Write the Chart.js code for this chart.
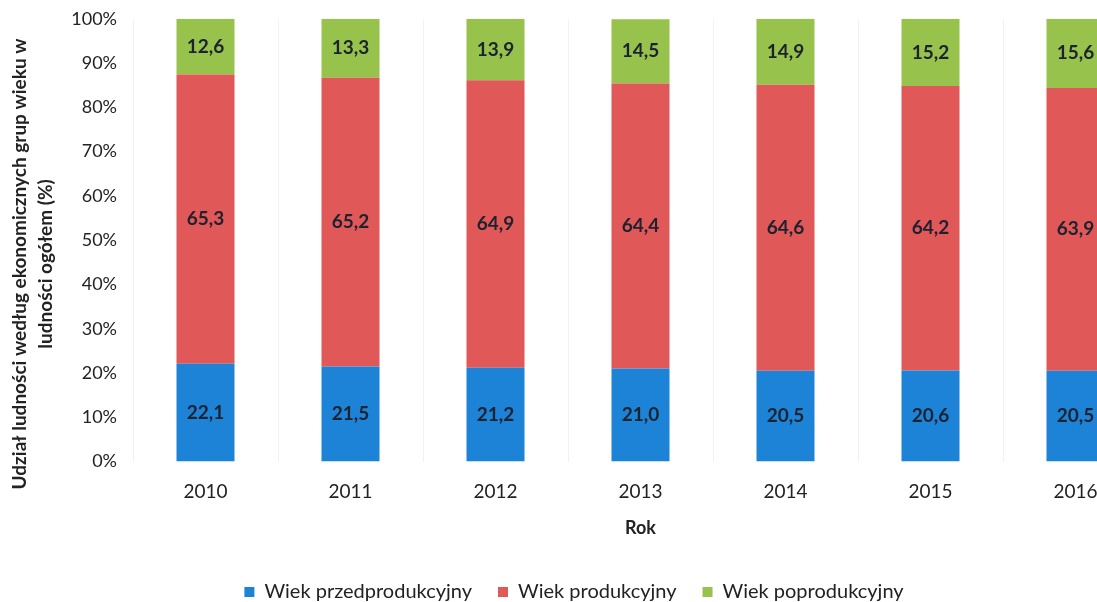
<!DOCTYPE html>
<html>
<head>
<meta charset="utf-8">
<script src="https://cdn.jsdelivr.net/npm/chart.js@4/dist/chart.umd.min.js"></script>
<style>
  html, body { margin: 0; padding: 0; background: #fff; overflow: hidden; }
  #wrap { width: 1152px; height: 612px; }
</style>
</head>
<body>
<div id="wrap"><canvas id="myChart"></canvas></div>
<script>
const years = ['2010', '2011', '2012', '2013', '2014', '2015', '2016'];
const przedprodukcyjny = [22.1, 21.5, 21.2, 21.0, 20.5, 20.6, 20.5];
const produkcyjny = [65.3, 65.2, 64.9, 64.4, 64.6, 64.2, 63.9];
const poprodukcyjny = [12.6, 13.3, 13.9, 14.5, 14.9, 15.2, 15.6];
const yTicks = [0, 10, 20, 30, 40, 50, 60, 70, 80, 90, 100];
const yTitle = ['Udział ludności według ekonomicznych grup wieku w', 'ludności ogółem (%)'];

const FONT = 'Lato, "Open Sans", sans-serif';

// labels in the middle of every segment
const segmentLabels = {
    id: 'segmentLabels',
    afterDatasetsDraw(chart) {
        const ctx = chart.ctx;
        ctx.save();
        ctx.font = 'bold 19px ' + FONT;
        ctx.fillStyle = '#1c2230';
        ctx.textAlign = 'center';
        ctx.textBaseline = 'middle';
        chart.data.datasets.forEach((ds, i) => {
            const meta = chart.getDatasetMeta(i);
            meta.data.forEach((bar, j) => {
                const p = bar.getProps(['x', 'y', 'base'], true);
                ctx.fillText(ds.data[j].toFixed(1).replace('.', ','), p.x, (p.y + p.base) / 2);
            });
        });
        ctx.restore();
    }
};

// the y title is longer than the axis, so it is drawn here instead of by the scale
const yAxisTitle = {
    id: 'yAxisTitle',
    afterDraw(chart) {
        const ctx = chart.ctx;
        ctx.save();
        ctx.font = 'bold 19px ' + FONT;
        ctx.fillStyle = '#222';
        ctx.textAlign = 'center';
        ctx.textBaseline = 'middle';
        yTitle.forEach((line, i) => {
            ctx.save();
            ctx.translate(20 + i * 26, 264);
            ctx.rotate(-Math.PI / 2);
            ctx.fillText(line, 0, 0);
            ctx.restore();
        });
        ctx.restore();
    }
};

const ctx = document.getElementById('myChart').getContext('2d');
const myChart = new Chart(ctx, {
    type: 'bar',
    data: {
        labels: years,
        datasets: [{
            label: 'Wiek przedprodukcyjny',
            data: przedprodukcyjny,
            backgroundColor: '#1d83d6',
        }, {
            label: 'Wiek produkcyjny',
            data: produkcyjny,
            backgroundColor: '#e05858',
        }, {
            label: 'Wiek poprodukcyjny',
            data: poprodukcyjny,
            backgroundColor: '#97c24c',
        }]
    },
    options: {
        responsive: true,
        maintainAspectRatio: false,
        animation: false,
        barPercentage: 0.8,
        categoryPercentage: 0.5,
        layout: { padding: { top: 11, right: 4, left: 0, bottom: 0 } },
        plugins: {
            tooltip: { enabled: false },
            legend: {
                position: 'bottom',
                labels: {
                    boxWidth: 10,
                    boxHeight: 10,
                    padding: 26,
                    color: '#222',
                    font: { family: FONT, size: 20 }
                }
            }
        },
        scales: {
            x: {
                stacked: true,
                border: { display: false },
                grid: {
                    display: true,
                    color: 'rgba(0,0,0,0.05)',
                    drawTicks: false
                },
                ticks: {
                    padding: 19,
                    color: '#222',
                    font: { family: FONT, size: 19 }
                },
                title: {
                    display: true,
                    text: 'Rok',
                    color: '#222',
                    padding: { top: -5, bottom: 17 },
                    font: { family: FONT, size: 18, weight: 'bold' }
                }
            },
            y: {
                stacked: true,
                min: 0,
                max: 100,
                border: { display: false },
                grid: { display: false },
                afterBuildTicks: function(scale) {
                    scale.ticks = yTicks.map(v => ({ value: v }));
                },
                afterFit: function(scale) {
                    scale.width = 133;
                },
                ticks: {
                    padding: 8,
                    color: '#222',
                    font: { family: FONT, size: 18 },
                    callback: function(value) {
                        return value + '%';
                    }
                }
            }
        }
    },
    plugins: [segmentLabels, yAxisTitle]
});
</script>
</body>
</html>
